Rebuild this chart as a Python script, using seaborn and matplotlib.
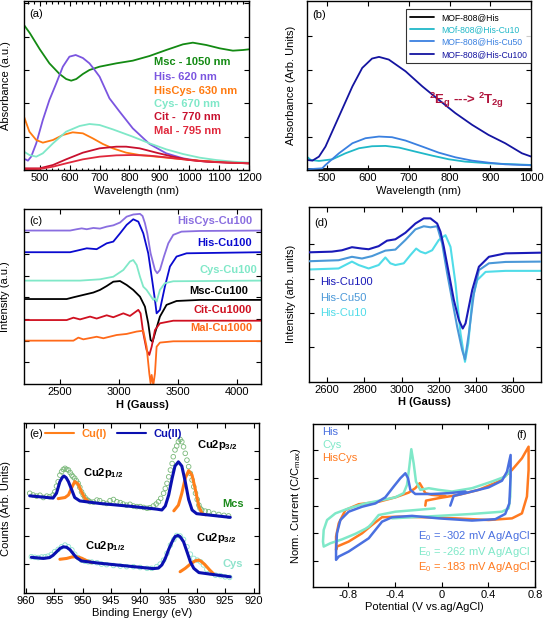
import matplotlib
matplotlib.use("Agg")
import matplotlib.pyplot as plt
from matplotlib.ticker import MultipleLocator, FixedFormatter
from matplotlib.lines import Line2D
import seaborn as sns

sns.set_theme(style="ticks")
plt.rcParams.update({
    "font.family": ["Liberation Sans", "DejaVu Sans"],
    "mathtext.fontset": "custom",
    "mathtext.rm": "Liberation Sans",
    "mathtext.it": "Liberation Sans:italic",
    "mathtext.bf": "Liberation Sans:bold",
    "axes.unicode_minus": False,
    "axes.edgecolor": "black",
    "axes.linewidth": 1.0,
    "xtick.color": "black",
    "ytick.color": "black",
    "text.color": "black",
    "axes.labelcolor": "black",
})

# ---------------- data: panel (a) UV-Vis ----------------
a_msc_wl = [447, 467, 500, 532, 566, 588, 605, 622, 644, 666, 700, 756, 811, 867, 923, 979, 1012, 1057, 1102, 1146, 1180, 1200]
a_msc = [4.35, 4.10, 3.62, 3.20, 2.88, 2.73, 2.68, 2.73, 2.88, 3.00, 3.10, 3.20, 3.28, 3.42, 3.60, 3.77, 3.82, 3.75, 3.65, 3.58, 3.60, 3.62]
a_his_wl = [452, 460, 471, 488, 510, 532, 555, 566, 577, 599, 620, 644, 666, 681, 700, 733, 767, 811, 867, 923, 979, 1035, 1090, 1146, 1200]
a_his = [0.32, 0.28, 0.40, 0.80, 1.50, 2.10, 2.60, 2.85, 3.10, 3.40, 3.45, 3.36, 3.20, 3.03, 2.80, 2.15, 1.75, 1.25, 0.78, 0.50, 0.35, 0.27, 0.24, 0.22, 0.20]
a_hiscys_wl = [447, 465, 488, 510, 544, 577, 610, 644, 677, 711, 744, 789, 834, 890, 945, 1035, 1146, 1200]
a_hiscys = [1.60, 1.15, 0.90, 0.82, 0.90, 1.05, 1.13, 1.10, 0.95, 0.78, 0.65, 0.52, 0.45, 0.40, 0.35, 0.28, 0.22, 0.20]
a_cys_wl = [447, 465, 488, 510, 544, 588, 633, 666, 700, 744, 811, 867, 923, 979, 1035, 1090, 1146, 1200]
a_cys = [0.55, 0.45, 0.40, 0.50, 0.80, 1.15, 1.32, 1.38, 1.35, 1.22, 1.00, 0.80, 0.62, 0.48, 0.37, 0.30, 0.25, 0.22]
a_cit_wl = [447, 499, 544, 588, 644, 700, 756, 789, 834, 890, 945, 1001, 1057, 1124, 1200]
a_cit = [0.05, 0.05, 0.15, 0.32, 0.52, 0.65, 0.70, 0.70, 0.65, 0.52, 0.40, 0.30, 0.25, 0.22, 0.20]
a_mal_wl = [447, 499, 544, 588, 644, 700, 756, 811, 867, 923, 979, 1035, 1090, 1200]
a_mal = [0.02, 0.03, 0.10, 0.20, 0.32, 0.40, 0.44, 0.45, 0.43, 0.38, 0.32, 0.27, 0.24, 0.20]
a_labels = ["Msc - 1050 nm", "His- 620 nm", "HisCys- 630 nm", "Cys- 670 nm", "Cit -  770 nm", "Mal - 795 nm"]

# ---------------- data: panel (b) ----------------
b_his_wl = [450, 600, 800, 1000]
b_his = [0.03, 0.03, 0.03, 0.03]
b_cu10_wl = [450, 460, 480, 513, 545, 578, 610, 643, 676, 716, 757, 798, 838, 895, 1000]
b_cu10 = [0.40, 0.30, 0.27, 0.32, 0.50, 0.65, 0.71, 0.72, 0.67, 0.55, 0.43, 0.32, 0.25, 0.20, 0.15]
b_cu50_wl = [450, 488, 496, 529, 562, 594, 627, 659, 692, 733, 773, 814, 855, 895, 936, 1000]
b_cu50 = [0.02, 0.05, 0.15, 0.50, 0.80, 0.95, 1.00, 0.98, 0.88, 0.70, 0.52, 0.38, 0.28, 0.22, 0.17, 0.14]
b_cu100_wl = [451, 464, 480, 496, 529, 562, 586, 610, 627, 651, 692, 733, 773, 814, 855, 895, 936, 977, 1000]
b_cu100 = [0.30, 0.28, 0.40, 0.70, 1.60, 2.50, 3.05, 3.33, 3.38, 3.30, 2.95, 2.50, 2.10, 1.70, 1.35, 1.05, 0.80, 0.50, 0.40]
b_labels = ["MOF-808@His", "MOf-808@His-Cu10", "MOF-808@His-Cu50", "MOF-808@His-Cu100"]

# ---------------- data: panel (c) EPR ----------------
c_hiscys_G = [2195, 2585, 2641, 2683, 2726, 2782, 2838, 2895, 2951, 3008, 3064, 3120, 3177, 3199, 3219, 3239, 3267, 3304, 3323, 3346, 3380, 3417, 3459, 3529, 3684, 4200]
c_hiscys = [7.08, 7.08, 7.14, 7.18, 7.14, 7.20, 7.17, 7.26, 7.32, 7.45, 7.72, 7.82, 7.85, 7.75, 7.42, 6.95, 6.03, 5.26, 5.11, 5.26, 5.88, 6.49, 6.88, 7.03, 7.06, 7.08]
c_his_G = [2195, 2585, 2641, 2726, 2810, 2895, 2951, 3008, 3064, 3120, 3163, 3205, 3247, 3276, 3304, 3318, 3346, 3388, 3431, 3487, 3572, 4200]
c_his = [6.08, 6.08, 6.15, 6.26, 6.22, 6.49, 6.57, 6.95, 7.34, 7.60, 7.49, 6.95, 6.03, 4.95, 3.88, 3.26, 3.42, 4.49, 5.42, 5.88, 6.03, 6.08]
c_cys_G = [2195, 2669, 2838, 2951, 3036, 3092, 3120, 3149, 3177, 3205, 3233, 3262, 3290, 3304, 3318, 3346, 3388, 3459, 4200]
c_cys = [4.77, 4.77, 4.83, 4.95, 5.26, 5.65, 5.72, 5.49, 4.95, 4.49, 4.34, 4.11, 3.88, 3.95, 3.80, 4.34, 4.65, 4.74, 4.77]
c_msc_G = [2195, 2556, 2613, 2697, 2782, 2838, 2895, 2951, 3008, 3064, 3120, 3177, 3219, 3247, 3267, 3284, 3304, 3346, 3402, 3487, 3684, 4200]
c_msc = [3.92, 3.92, 4.00, 4.11, 4.22, 4.34, 4.52, 4.72, 4.75, 4.57, 4.34, 4.03, 3.57, 2.80, 2.03, 1.95, 2.34, 3.11, 3.65, 3.83, 3.88, 3.88]
c_cit_G = [2195, 2556, 2613, 2669, 2754, 2810, 2895, 2951, 3036, 3092, 3163, 3182, 3205, 3233, 3256, 3276, 3304, 3346, 3459, 4200]
c_cit = [2.95, 2.95, 3.06, 2.98, 3.11, 3.02, 3.17, 3.08, 3.26, 3.14, 3.42, 3.26, 2.34, 1.57, 1.34, 1.72, 2.49, 2.80, 2.92, 2.92]
c_mal_G = [2195, 2613, 2655, 2697, 2810, 2867, 2979, 3064, 3149, 3205, 3233, 3256, 3267, 3276, 3290, 3304, 3318, 3346, 3459, 4200]
c_mal = [2.00, 2.00, 2.14, 2.06, 2.18, 2.11, 2.26, 2.31, 2.42, 2.46, 1.72, 0.49, 0.03, 0.42, -0.05, 0.49, 1.72, 1.91, 1.97, 1.98]
c_labels = ["HisCys-Cu100", "His-Cu100", "Cys-Cu100", "Msc-Cu100", "Cit-Cu1000", "Mal-Cu1000"]

# ---------------- data: panel (d) EPR ----------------
d_cu100_G = [2499, 2625, 2679, 2733, 2787, 2823, 2877, 2922, 2967, 3021, 3075, 3120, 3156, 3192, 3210, 3228, 3255, 3282, 3309, 3330, 3345, 3381, 3417, 3471, 3560, 3749]
d_cu100 = [3.77, 3.79, 3.83, 3.92, 3.88, 3.86, 3.95, 4.11, 4.15, 4.34, 4.61, 4.76, 4.76, 4.61, 4.37, 3.93, 3.16, 2.38, 1.80, 1.55, 1.70, 2.67, 3.35, 3.64, 3.74, 3.76]
d_cu50_G = [2499, 2661, 2733, 2787, 2841, 2913, 2967, 3021, 3075, 3120, 3156, 3192, 3219, 3246, 3273, 3300, 3327, 3342, 3363, 3390, 3417, 3471, 3560, 3749]
d_cu50 = [3.51, 3.54, 3.64, 3.59, 3.66, 3.82, 3.85, 4.13, 4.44, 4.53, 4.50, 4.53, 4.03, 3.16, 2.38, 1.60, 0.92, 0.65, 1.41, 2.57, 3.25, 3.45, 3.49, 3.50]
d_cu10_G = [2499, 2661, 2733, 2769, 2823, 2877, 2913, 2940, 2967, 3012, 3048, 3079, 3102, 3129, 3165, 3201, 3237, 3264, 3291, 3318, 3342, 3360, 3381, 3408, 3453, 3560, 3749]
d_cu10 = [3.27, 3.30, 3.50, 3.40, 3.30, 3.40, 3.62, 3.45, 3.40, 3.45, 3.69, 3.88, 3.79, 3.74, 3.83, 4.13, 4.27, 3.93, 2.86, 1.41, 0.58, 1.12, 2.38, 2.96, 3.20, 3.23, 3.23]
d_labels = ["His-Cu100", "His-Cu50", "His-Cu10"]

# ---------------- data: panel (e) XPS ----------------
e_mcs_ev = [959.3, 958.7, 958.1, 957.5, 956.9, 956.3, 955.8, 955.2, 954.9, 954.6,
            954.3, 954.0, 953.7, 953.4, 953.1, 952.8, 952.5, 952.2, 951.9, 951.7,
            951.4, 951.1, 950.8, 950.5, 950.2, 949.9, 949.6, 949.3, 949.0, 948.7,
            948.1, 947.5, 947.0, 946.4, 945.8, 945.2, 944.6, 944.0, 943.4, 942.9,
            942.3, 941.7, 941.1, 940.5, 939.9, 939.3, 938.7, 938.2, 937.6, 937.1,
            936.7, 936.3, 935.8, 935.5, 935.2, 934.9, 934.6, 934.3, 934.1, 933.8,
            933.5, 933.2, 932.9, 932.6, 932.3, 932.0, 931.7, 931.4, 931.1, 930.8,
            930.5, 930.2, 929.9, 929.6, 929.4, 929.1, 928.5, 927.9, 927.0, 926.1,
            925.2, 924.4]
e_mcs_counts = [3.51, 3.45, 3.41, 3.44, 3.36, 3.41, 3.39, 3.45, 3.56, 3.76,
                3.92, 4.15, 4.27, 4.35, 4.39, 4.35, 4.33, 4.24, 4.15, 4.09,
                4.04, 3.95, 3.86, 3.72, 3.56, 3.45, 3.36, 3.29, 3.25, 3.21,
                3.20, 3.27, 3.25, 3.18, 3.15, 3.25, 3.29, 3.21, 3.18, 3.13,
                3.09, 3.12, 3.06, 3.04, 3.04, 3.01, 2.98, 3.00, 3.06, 3.13,
                3.21, 3.33, 3.51, 3.68, 3.86, 4.09, 4.33, 4.56, 4.80, 5.04,
                5.18, 5.33, 5.41, 5.33, 5.15, 4.92, 4.68, 4.45, 4.21, 3.98,
                3.74, 3.51, 3.29, 3.09, 2.98, 2.92, 2.88, 2.86, 2.80, 2.76,
                2.73, 2.71]
e_mcs_II_ev = [959.3, 955.2, 954.6, 954.0, 953.6, 953.3, 952.9, 952.5, 951.9, 951.4, 950.5, 947.0, 941.1,
               937.0, 936.1, 935.5, 934.9, 934.3, 933.8, 933.2, 932.6, 932.0, 931.4, 930.8, 930.0, 924.1]
e_mcs_II = [3.42, 3.34, 3.51, 3.92, 4.06, 4.12, 4.06, 3.92, 3.62, 3.36, 3.24, 3.15, 3.04,
            2.95, 2.92, 3.06, 3.45, 4.04, 4.47, 4.62, 4.47, 3.92, 3.29, 2.92, 2.79, 2.66]
e_mcs_I12_ev = [954.3, 953.1, 952.5, 951.9, 951.4, 950.8, 950.2, 949.6, 949.0]
e_mcs_I12 = [3.32, 3.36, 3.45, 3.72, 3.92, 3.84, 3.56, 3.33, 3.22]
e_mcs_I32_ev = [934.0, 933.2, 932.6, 932.0, 931.4, 930.8, 930.2, 929.6, 929.0, 928.4]
e_mcs_I32 = [2.89, 3.09, 3.51, 4.04, 4.31, 4.15, 3.62, 3.04, 2.78, 2.75]

e_cys_ev = [959.0, 958.4, 957.8, 957.2, 956.6, 956.1, 955.5, 954.9, 954.3, 953.7,
            953.1, 952.5, 951.9, 951.4, 950.8, 950.2, 949.6, 949.0, 948.4, 947.5,
            946.7, 945.8, 944.6, 943.4, 942.3, 941.1, 939.9, 938.7, 937.9, 937.0,
            936.4, 935.8, 935.2, 934.6, 934.0, 933.5, 932.9, 932.3, 931.7, 931.1,
            930.5, 929.9, 929.3, 928.8, 928.2, 927.6, 926.7, 925.8, 925.0, 924.2]
e_cys_counts = [1.27, 1.25, 1.24, 1.26, 1.27, 1.29, 1.35, 1.45, 1.53, 1.62,
                1.68, 1.62, 1.51, 1.36, 1.24, 1.15, 1.11, 1.09, 1.08, 1.06,
                1.01, 0.99, 0.96, 0.94, 0.92, 0.92, 0.89, 0.86, 0.86, 0.92,
                1.01, 1.15, 1.39, 1.68, 1.88, 2.02, 2.00, 1.88, 1.62, 1.36,
                1.21, 1.15, 1.09, 0.98, 0.82, 0.71, 0.62, 0.60, 0.56, 0.54]
e_cys_II_ev = [959.0, 956.9, 955.8, 955.2, 954.6, 954.0, 953.4, 952.8, 952.2, 951.6, 951.1, 950.2, 947.0, 941.1,
               937.6, 936.7, 936.1, 935.5, 934.9, 934.3, 933.8, 933.3, 932.9, 932.3, 931.7, 931.1, 930.5, 929.6, 924.1]
e_cys_II = [1.25, 1.21, 1.24, 1.32, 1.44, 1.56, 1.62, 1.60, 1.51, 1.36, 1.24, 1.12, 1.04, 0.92,
            0.85, 0.87, 0.98, 1.21, 1.53, 1.80, 1.98, 2.02, 1.98, 1.80, 1.45, 1.09, 0.86, 0.71, 0.56]
e_cys_I12_ev = [954.0, 952.8, 951.9, 951.1, 950.2, 949.3, 948.4]
e_cys_I12 = [1.18, 1.21, 1.26, 1.27, 1.22, 1.13, 1.06]
e_cys_I32_ev = [932.9, 932.0, 931.1, 930.2, 929.6, 929.1, 928.5, 927.7, 927.0]
e_cys_I32 = [0.74, 0.86, 1.01, 1.13, 1.15, 1.09, 0.98, 0.80, 0.66]

# ---------------- data: panel (f) CV ----------------
f_his_V = [0.074, 0.103, 0.260, 0.403, 0.517, 0.560, 0.591, 0.591, 0.580, 0.545,
           0.460, 0.260, -0.026, -0.254, -0.425, -0.511, -0.568, -0.625, -0.711, -0.797,
           -0.882, -0.905, -0.905, -0.897, -0.868, -0.797, -0.682, -0.568, -0.483, -0.411,
           -0.354, -0.311, -0.288, -0.268, -0.226, -0.083, 0.060, 0.203]
f_his_I = [3.00, 3.35, 3.51, 3.66, 3.90, 4.23, 4.83, 4.05, 3.08, 2.70,
           2.51, 2.46, 2.54, 2.63, 2.58, 2.42, 2.12, 1.82, 1.58, 1.34,
           1.16, 1.04, 1.40, 2.00, 2.48, 2.78, 2.96, 3.08, 3.30, 3.69,
           3.99, 4.17, 3.99, 3.57, 3.42, 3.42, 3.45, 3.51]
f_cys_V = [-0.060, -0.226, -0.397, -0.540, -0.597, -0.625, -0.654, -0.740, -0.854, -0.954,
           -1.011, -1.017, -1.011, -0.982, -0.911, -0.797, -0.654, -0.511, -0.397, -0.326,
           -0.297, -0.277, -0.260, -0.240, -0.220, -0.183, -0.111, -0.026, 0.089, 0.260,
           0.431, 0.545, 0.588, 0.588, 0.574, 0.517, 0.260, -0.026, -0.254, -0.425]
f_cys_I = [2.90, 2.84, 2.78, 2.66, 2.36, 2.24, 2.16, 1.98, 1.78, 1.64,
           1.52, 1.70, 2.12, 2.48, 2.72, 2.90, 3.08, 3.20, 3.30, 3.45,
           3.75, 4.41, 5.04, 4.53, 3.87, 3.57, 3.63, 3.57, 3.51, 3.63,
           3.87, 4.05, 4.29, 3.33, 2.90, 2.78, 2.70, 2.63, 2.58, 2.54]
f_hiscys_V = [-0.140, -0.134, -0.026, 0.146, 0.317, 0.488, 0.603, 0.688, 0.745, 0.745,
              0.731, 0.688, 0.603, 0.403, 0.117, -0.140, -0.368, -0.511, -0.597, -0.682,
              -0.797, -0.897, -0.905, -0.905, -0.882, -0.825, -0.711, -0.540, -0.397, -0.283,
              -0.226, -0.188, -0.163, -0.140, -0.083, 0.031]
f_hiscys_I = [3.00, 3.18, 3.27, 3.39, 3.57, 3.87, 4.29, 4.71, 5.13, 4.29,
              3.33, 2.72, 2.54, 2.48, 2.54, 2.58, 2.60, 2.58, 2.30, 2.00,
              1.70, 1.52, 1.40, 1.88, 2.36, 2.84, 3.05, 3.14, 3.30, 3.47,
              3.63, 3.81, 3.63, 3.45, 3.39, 3.35]
f_labels = ["His", "Cys", "HisCys"]
f_e0 = ["E$_0$ = -302 mV Ag/AgCl", "E$_0$ = -262 mV Ag/AgCl", "E$_0$ = -183 mV Ag/AgCl"]

# ---------------- figure ----------------
W, H = 545, 626
fig = plt.figure(figsize=(W / 100, H / 100), dpi=100)


def add_ax(left, right, top, bottom):
    return fig.add_axes([left / W, 1 - bottom / H, (right - left) / W, (bottom - top) / H])


def line(ax, x, y, color, lw=1.3, z=2):
    sns.lineplot(x=x, y=y, color=color, linewidth=lw, sort=False, estimator=None,
                 ax=ax, legend=False, zorder=z)


def style(ax, xlim, xticks, ylim, yticks, xlabels=None):
    ax.set_xlim(*xlim)
    ax.set_ylim(*ylim)
    ax.set_xticks(xticks)
    if xlabels is not None:
        ax.xaxis.set_major_formatter(FixedFormatter(xlabels))
    ax.set_yticks(yticks)
    ax.set_yticklabels([])
    ax.tick_params(which="both", direction="in", top=True, right=True, width=0.8)
    ax.tick_params(which="major", length=3.5, labelsize=8, pad=2.5)
    for s in ax.spines.values():
        s.set_linewidth(1.0)
        s.set_color("black")


FS = 8

# (a)
ax = add_ax(24, 249, 1, 170)
cols_a = ["#138a13", "#7b55e0", "#ff7a10", "#7fe8c8", "#c8102e", "#e0283c"]
series_a = [(a_msc_wl, a_msc), (a_his_wl, a_his), (a_hiscys_wl, a_hiscys),
            (a_cys_wl, a_cys), (a_cit_wl, a_cit), (a_mal_wl, a_mal)]
for (x, y), c in zip(series_a, cols_a):
    line(ax, x, y, c, lw=1.3)
style(ax, (447, 1200), list(range(500, 1201, 100)), (0, 5.07), [1, 2, 3, 4, 5])
ax.xaxis.set_minor_locator(MultipleLocator(20))
ax.tick_params(which="minor", length=1.8)
ax.set_xlabel("Wavelength (nm)", fontsize=FS, labelpad=1.5)
ax.set_ylabel("Absorbance (a.u.)", fontsize=FS, labelpad=7)
ax.text(0.022, 0.925, "(a)", transform=ax.transAxes, fontsize=FS, va="center")
for i, (lab, c) in enumerate(zip(a_labels, cols_a)):
    ax.text(0.576, [0.637, 0.548, 0.469, 0.391, 0.312, 0.231][i], lab, color=c,
            transform=ax.transAxes, fontsize=FS, fontweight="bold", va="center")

# (b)
ax = add_ax(306.7, 531.3, 1, 170)
cols_b = ["black", "#20b8c8", "#3a80e0", "#1414a0"]
series_b = [(b_his_wl, b_his), (b_cu10_wl, b_cu10), (b_cu50_wl, b_cu50), (b_cu100_wl, b_cu100)]
for (x, y), c in zip(series_b, cols_b):
    line(ax, x, y, c, lw=1.3)
style(ax, (450, 1000), list(range(500, 1001, 100)), (0, 5.05), [1, 2, 3, 4])
ax.set_xlabel("Wavelength (nm)", fontsize=FS, labelpad=1.5)
ax.set_ylabel("Absorbance (Arb. Units)", fontsize=FS, labelpad=5)
ax.text(0.024, 0.918, "(b)", transform=ax.transAxes, fontsize=FS, va="center")
handles = [Line2D([], [], color=c, lw=1.3) for c in cols_b]
leg = ax.legend(handles, b_labels, loc="upper right", bbox_to_anchor=(1.0, 0.955),
                borderaxespad=0, fontsize=6.2, frameon=True, fancybox=False,
                handlelength=2.8, labelspacing=0.38, borderpad=0.5, handletextpad=0.8,
                labelcolor=cols_b)
leg.get_frame().set_edgecolor("black")
leg.get_frame().set_linewidth(0.8)
ax.text(0.543, 0.414, r"$\mathbf{{}^{2}E_{g}}$ ---> $\mathbf{{}^{2}T_{2g}}$",
        transform=ax.transAxes, fontsize=9.5, fontweight="bold", color="#b0143c", va="center")

# (c)
ax = add_ax(23.5, 260.7, 209.3, 384)
cols_c = ["#8a6ee0", "#0a0ad0", "#80e8c8", "black", "#d01020", "#ff6a1a"]
series_c = [(c_hiscys_G, c_hiscys), (c_his_G, c_his), (c_cys_G, c_cys),
            (c_msc_G, c_msc), (c_cit_G, c_cit), (c_mal_G, c_mal)]
for (x, y), c in zip(series_c, cols_c):
    line(ax, x, y, c, lw=1.3)
style(ax, (2190, 4200), [2500, 3000, 3500, 4000], (0, 8.06), [1, 2, 3, 4, 5, 6, 7])
ax.set_xlabel("H (Gauss)", fontsize=FS, fontweight="bold", labelpad=1.5)
ax.set_ylabel("Intensity (a.u.)", fontsize=FS, labelpad=7)
ax.text(0.023, 0.935, "(c)", transform=ax.transAxes, fontsize=FS, va="center")
c_pos = [(0.963, 0.935), (0.963, 0.805), (0.985, 0.653), (0.946, 0.534), (0.963, 0.424), (0.963, 0.323)]
for lab, c, (fx, fy) in zip(c_labels, cols_c, c_pos):
    ax.text(fx, fy, lab, color=c, transform=ax.transAxes, fontsize=FS,
            fontweight="bold", ha="right", va="center")

# (d)
ax = add_ax(308.7, 540.7, 206.7, 381.7)
cols_d = ["#1a1ab8", "#4a98d8", "#50dce8"]
series_d = [(d_cu100_G, d_cu100), (d_cu50_G, d_cu50), (d_cu10_G, d_cu10)]
for (x, y), c, z in zip(series_d[::-1], cols_d[::-1], [2, 3, 4]):
    line(ax, x, y, c, lw=1.5, z=z)
style(ax, (2500, 3750), list(range(2600, 3601, 200)), (0, 5.1), [1, 2, 3, 4])
ax.set_xlabel("H (Gauss)", fontsize=FS, fontweight="bold", labelpad=1.5)
ax.set_ylabel("Intensity (arb. units)", fontsize=FS, labelpad=7)
ax.text(0.022, 0.905, "(d)", transform=ax.transAxes, fontsize=FS, va="center")
for lab, c, fy in zip(d_labels, cols_d, [0.571, 0.476, 0.394]):
    ax.text(0.05, fy, lab, color=c, transform=ax.transAxes, fontsize=FS, va="center")

# (e)
ax = add_ax(24, 259.3, 423.3, 592.7)
c_I, c_II = "#ff7f1a", "#0a10b0"
sns.scatterplot(x=e_mcs_ev, y=e_mcs_counts, ax=ax, marker="o", s=11, color="#79b879",
                facecolor="none", edgecolor="#79b879", linewidth=0.6, legend=False, zorder=1)
sns.scatterplot(x=e_cys_ev, y=e_cys_counts, ax=ax, marker="o", s=11, color="#8fe3cc",
                facecolor="none", edgecolor="#8fe3cc", linewidth=0.6, legend=False, zorder=1)
line(ax, e_mcs_I12_ev, e_mcs_I12, c_I, lw=2.2, z=3)
line(ax, e_mcs_I32_ev, e_mcs_I32, c_I, lw=2.2, z=3)
line(ax, e_cys_I12_ev, e_cys_I12, c_I, lw=2.2, z=3)
line(ax, e_cys_I32_ev, e_cys_I32, c_I, lw=2.2, z=3)
line(ax, e_mcs_II_ev, e_mcs_II, c_II, lw=2.2, z=4)
line(ax, e_cys_II_ev, e_cys_II, c_II, lw=2.2, z=4)
style(ax, (960.3, 919.0), list(range(960, 919, -5)), (0, 5.98), [1, 2, 3, 4, 5])
ax.set_xlabel("Binding Energy (eV)", fontsize=FS, labelpad=1.5)
ax.set_ylabel("Counts (Arb. Units)", fontsize=FS, labelpad=7)
ax.text(0.023, 0.937, "(e)", transform=ax.transAxes, fontsize=FS, va="center")
hl = [Line2D([], [], color=c_I, lw=1.5), Line2D([], [], color=c_II, lw=1.5)]
leg = ax.legend(hl, ["Cu(I)", "Cu(II)"], loc="center left", bbox_to_anchor=(0.09, 0.937),
                ncol=2, frameon=False, handlelength=2.6, columnspacing=0.9, handletextpad=0.7,
                borderaxespad=0, borderpad=0, labelcolor=[c_I, c_II],
                prop={"size": FS, "weight": "bold"})
txt_e = [(0.734, 0.872, r"Cu2p$_{\mathbf{3/2}}$", "black"),
         (0.252, 0.705, r"Cu2p$_{\mathbf{1/2}}$", "black"),
         (0.844, 0.522, "Mcs", "#1a8a1a"),
         (0.259, 0.276, r"Cu2p$_{\mathbf{1/2}}$", "black"),
         (0.731, 0.321, r"Cu2p$_{\mathbf{3/2}}$", "black"),
         (0.844, 0.169, "Cys", "#8fe3cc")]
for fx, fy, t, c in txt_e:
    ax.text(fx, fy, t, transform=ax.transAxes, fontsize=FS, fontweight="bold", color=c, va="center")

# (f)
ax = add_ax(313.3, 535, 424, 586.7)
cols_f = ["#4a70e0", "#7fe8c8", "#ff7a20"]
line(ax, f_hiscys_V, f_hiscys_I, cols_f[2], lw=1.8, z=2)
line(ax, f_cys_V, f_cys_I, cols_f[1], lw=1.8, z=3)
line(ax, f_his_V, f_his_I, cols_f[0], lw=1.8, z=4)
style(ax, (-1.1, 0.8), [-0.8, -0.4, 0, 0.4, 0.8], (0.07, 5.95), [1, 2, 3, 4, 5],
      xlabels=["-0.8", "-0.4", "0", "0.4", "0.8"])
ax.set_xlabel("Potential (V vs.ag/AgCl)", fontsize=FS, labelpad=1.5)
ax.set_ylabel("Norm. Current (C/C$_{\\mathrm{max}}$)", fontsize=FS, labelpad=5)
ax.text(0.963, 0.932, "(f)", transform=ax.transAxes, fontsize=FS, ha="right", va="center")
for lab, c, fy in zip(f_labels, cols_f, [0.953, 0.871, 0.789]):
    ax.text(0.039, fy, lab, color=c, transform=ax.transAxes, fontsize=FS, va="center")
for lab, c, fy in zip(f_e0, cols_f, [0.311, 0.215, 0.123]):
    ax.text(0.978, fy, lab, color=c, transform=ax.transAxes, fontsize=FS, ha="right", va="center")

fig.savefig("out.png", dpi=100)
